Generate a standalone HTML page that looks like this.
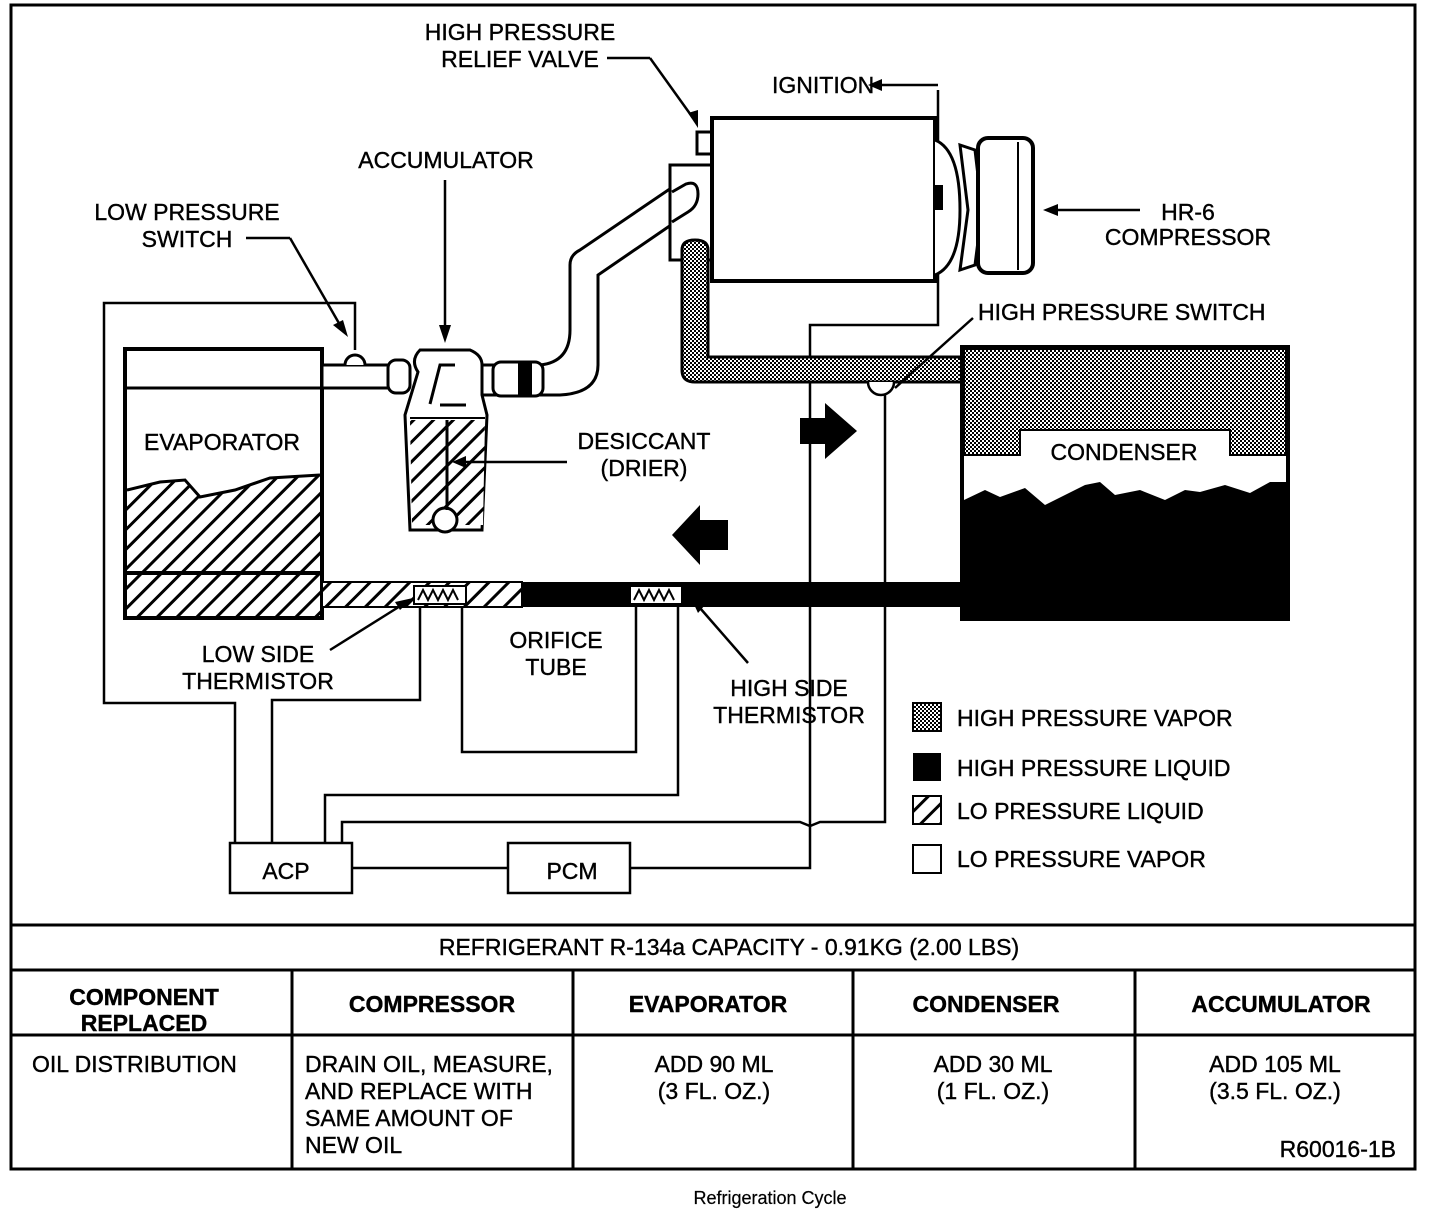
<!DOCTYPE html>
<html><head><style>
body{margin:0;background:#fff}
svg{display:block}
text{font-family:"Liberation Sans",Arial,sans-serif;font-size:23px;fill:#000;stroke:#000;stroke-width:0.4}
.b{font-weight:bold}
</style></head><body>
<svg width="1440" height="1214" viewBox="0 0 1440 1214" xmlns="http://www.w3.org/2000/svg">
<defs>
<pattern id="st" width="4" height="4" patternUnits="userSpaceOnUse"><rect width="4" height="4" fill="#fff"/><rect width="2" height="2" fill="#000"/><rect x="2" y="2" width="2" height="2" fill="#000"/></pattern>
<pattern id="ht" width="14" height="14" patternUnits="userSpaceOnUse" patternTransform="rotate(45)"><rect width="14" height="14" fill="#fff"/><rect width="3" height="14" fill="#000"/></pattern>
</defs>
<g fill="none" stroke="#000" stroke-width="3">
<rect x="11" y="5" width="1404" height="1164"/>
<line x1="11" y1="925" x2="1415" y2="925"/>
<line x1="11" y1="970" x2="1415" y2="970"/>
<line x1="11" y1="1035" x2="1415" y2="1035"/>
<line x1="292" y1="970" x2="292" y2="1169"/>
<line x1="573" y1="970" x2="573" y2="1169"/>
<line x1="853" y1="970" x2="853" y2="1169"/>
<line x1="1135" y1="970" x2="1135" y2="1169"/>
</g>
<!-- wires -->
<g fill="none" stroke="#000" stroke-width="2.5">
<polyline points="355,350 355,303 104,303 104,703 235,703 235,843"/>
<polyline points="272,843 272,700 420,700 420,600"/>
<polyline points="462,600 462,752 636,752 636,600"/>
<polyline points="325,843 325,795 678,795 678,600"/>
<polyline points="342,843 342,822 800,822 810,826 820,822 885,822 885,390"/>
<polyline points="352,868 508,868"/>
<polyline points="630,868 810,868 810,325 938,325 938,90"/>
<polyline points="938,85 880,85"/>
</g>
<polygon points="868,85 882,79 882,91" fill="#000"/>
<!-- evaporator -->
<rect x="125" y="349" width="197" height="269" fill="#fff" stroke="#000" stroke-width="4"/>
<line x1="125" y1="388" x2="322" y2="388" stroke="#000" stroke-width="3"/>
<path d="M127,490 L160,482 L185,480 L200,497 L235,490 L270,478 L320,475 L320,573 L127,573Z" fill="url(#ht)"/>
<rect x="127" y="575" width="193" height="41" fill="url(#ht)"/>
<line x1="125" y1="573" x2="322" y2="573" stroke="#000" stroke-width="4"/>
<path d="M127,490 L160,482 L185,480 L200,497 L235,490 L270,478 L320,475" fill="none" stroke="#000" stroke-width="3"/>
<!-- liquid line -->
<rect x="322" y="582" width="200" height="25" fill="url(#ht)" stroke="#000" stroke-width="2"/>
<rect x="522" y="582" width="442" height="25" fill="#000"/>
<rect x="414" y="586" width="52" height="18" fill="#fff" stroke="#000" stroke-width="2"/>
<path d="M418,600 l5,-10 5,10 5,-10 5,10 5,-10 5,10 5,-10 5,10" fill="none" stroke="#000" stroke-width="2"/>
<rect x="630" y="586" width="52" height="18" fill="#fff" stroke="#000" stroke-width="2"/>
<path d="M634,600 l5,-10 5,10 5,-10 5,10 5,-10 5,10 5,-10 5,10" fill="none" stroke="#000" stroke-width="2"/>
<!-- suction pipe -->
<g fill="#fff" stroke="#000" stroke-width="3">
<rect x="322" y="365" width="70" height="23"/>
<path d="M345,365 a10,10 0 0 1 20,0" />
<rect x="388" y="360" width="22" height="33" rx="8"/>
<path d="M480,365 L540,365 Q570,362 570,330 L570,265 Q570,255 580,250 L680,182 Q695,175 698,192 Q700,205 690,212 L598,275 L598,365 Q598,393 560,395 L480,395Z"/>
<rect x="493" y="362" width="50" height="34" rx="8"/>
<path d="M418,372 Q410,360 420,350 L470,350 Q482,355 482,365 L482,395 L487,415 L482,530 L410,530 L405,415Z"/>
</g>
<rect x="518" y="362" width="14" height="34" fill="#000"/>
<path d="M430,404 L440,365 L455,365 M440,405 L466,405" fill="none" stroke="#000" stroke-width="3"/>
<path d="M410,418 L485,418" stroke="#000" stroke-width="2"/>
<path d="M410,420 L485,420 L483,525 L412,525Z" fill="url(#ht)"/>
<circle cx="445" cy="520" r="12" fill="#fff" stroke="#000" stroke-width="3"/>
<line x1="447" y1="420" x2="447" y2="510" stroke="#000" stroke-width="3"/>
<!-- compressor -->
<rect x="670" y="165" width="42" height="95" fill="#fff" stroke="#000" stroke-width="3"/>
<path d="M672,192 L686,184 Q698,180 698,194 Q698,206 688,212 L672,222" fill="#fff" stroke="#000" stroke-width="3"/>
<rect x="697" y="132" width="16" height="22" fill="#fff" stroke="#000" stroke-width="3"/>
<rect x="712" y="118" width="223" height="163" fill="#fff" stroke="#000" stroke-width="4"/>
<path d="M935,140 Q960,150 960,210 Q960,265 935,275" fill="#fff" stroke="#000" stroke-width="3"/>
<rect x="933" y="185" width="10" height="25" fill="#000"/>
<path d="M960,145 L975,150 L982,210 L975,265 L960,270 L968,210Z" fill="#fff" stroke="#000" stroke-width="3"/>
<rect x="978" y="138" width="55" height="135" rx="10" fill="#fff" stroke="#000" stroke-width="4"/>
<line x1="1018" y1="142" x2="1018" y2="270" stroke="#000" stroke-width="2"/>
<!-- high pressure vapor line -->
<path d="M682,250 Q682,240 695,240 Q708,240 708,250 L708,357 L965,357 L965,382 L695,382 Q682,382 682,370Z" fill="url(#st)" stroke="#000" stroke-width="3"/>
<path d="M868,382 a13,13 0 0 0 26,0" fill="#fff" stroke="#000" stroke-width="2.5"/>
<!-- condenser -->
<rect x="962" y="347" width="326" height="272" fill="#fff" stroke="#000" stroke-width="4"/>
<path d="M964,349 L1286,349 L1286,455 L1230,455 L1230,430 L1020,430 L1020,455 L964,455Z" fill="url(#st)" stroke="#000" stroke-width="2"/>
<path d="M964,500 L985,490 L1000,497 L1025,488 L1045,505 L1065,495 L1085,485 L1100,482 L1115,495 L1140,490 L1165,500 L1185,490 L1200,492 L1225,485 L1250,493 L1270,482 L1286,482 L1286,617 L964,617Z" fill="#000"/>
<!-- block arrows -->
<polygon points="800,418 825,418 825,403 857,431 825,459 825,444 800,444" fill="#000"/>
<polygon points="728,520 700,520 700,505 672,535 700,565 700,550 728,550" fill="#000"/>
<!-- leaders -->
<g stroke="#000" stroke-width="2.5" fill="none">
<line x1="607" y1="58" x2="650" y2="58"/><line x1="650" y1="58" x2="693" y2="118"/>
<line x1="246" y1="238" x2="290" y2="238"/><line x1="290" y1="238" x2="340" y2="325"/>
<line x1="445" y1="180" x2="445" y2="330"/>
<line x1="1140" y1="210" x2="1055" y2="210"/>
<line x1="973" y1="318" x2="895" y2="388"/>
<line x1="567" y1="462" x2="460" y2="462"/>
<line x1="330" y1="650" x2="405" y2="603"/>
<line x1="748" y1="663" x2="700" y2="608"/>
</g>
<g fill="#000">
<polygon points="698,128 688,113 698,110"/>
<polygon points="348,337 333,325 343,320"/>
<polygon points="445,343 439,325 451,325"/>
<polygon points="1043,210 1058,204 1058,216"/>
<polygon points="452,462 466,456 466,468"/>
<polygon points="413,598 400,610 395,602"/>
<polygon points="692,600 705,605 698,613"/>
</g>
<!-- ACP / PCM -->
<rect x="230" y="843" width="122" height="50" fill="#fff" stroke="#000" stroke-width="2.5"/>
<rect x="508" y="843" width="122" height="50" fill="#fff" stroke="#000" stroke-width="2.5"/>
<text x="286" y="879" text-anchor="middle">ACP</text>
<text x="572" y="879" text-anchor="middle">PCM</text>
<!-- legend -->
<rect x="913" y="703" width="28" height="28" fill="url(#st)" stroke="#000" stroke-width="2"/>
<rect x="913" y="753" width="28" height="28" fill="#000"/>
<rect x="913" y="796" width="28" height="28" fill="url(#ht)" stroke="#000" stroke-width="2"/>
<rect x="913" y="845" width="28" height="28" fill="#fff" stroke="#000" stroke-width="2"/>
<text x="957" y="726">HIGH PRESSURE VAPOR</text>
<text x="957" y="776">HIGH PRESSURE LIQUID</text>
<text x="957" y="819">LO PRESSURE LIQUID</text>
<text x="957" y="867">LO PRESSURE VAPOR</text>
<!-- labels -->
<text x="520" y="40" text-anchor="middle">HIGH PRESSURE</text>
<text x="520" y="67" text-anchor="middle">RELIEF VALVE</text>
<text x="772" y="93">IGNITION</text>
<text x="446" y="168" text-anchor="middle">ACCUMULATOR</text>
<text x="187" y="220" text-anchor="middle">LOW PRESSURE</text>
<text x="187" y="247" text-anchor="middle">SWITCH</text>
<text x="1188" y="220" text-anchor="middle">HR-6</text>
<text x="1188" y="245" text-anchor="middle">COMPRESSOR</text>
<text x="978" y="320">HIGH PRESSURE SWITCH</text>
<text x="222" y="450" text-anchor="middle">EVAPORATOR</text>
<text x="644" y="449" text-anchor="middle">DESICCANT</text>
<text x="644" y="476" text-anchor="middle">(DRIER)</text>
<text x="1124" y="460" text-anchor="middle">CONDENSER</text>
<text x="258" y="662" text-anchor="middle">LOW SIDE</text>
<text x="258" y="689" text-anchor="middle">THERMISTOR</text>
<text x="556" y="648" text-anchor="middle">ORIFICE</text>
<text x="556" y="675" text-anchor="middle">TUBE</text>
<text x="789" y="696" text-anchor="middle">HIGH SIDE</text>
<text x="789" y="723" text-anchor="middle">THERMISTOR</text>
<!-- table -->
<text x="729" y="955" text-anchor="middle">REFRIGERANT R-134a CAPACITY - 0.91KG (2.00 LBS)</text>
<text class="b" x="144" y="1005" text-anchor="middle">COMPONENT</text>
<text class="b" x="144" y="1031" text-anchor="middle">REPLACED</text>
<text class="b" x="432" y="1012" text-anchor="middle">COMPRESSOR</text>
<text class="b" x="708" y="1012" text-anchor="middle">EVAPORATOR</text>
<text class="b" x="986" y="1012" text-anchor="middle">CONDENSER</text>
<text class="b" x="1281" y="1012" text-anchor="middle">ACCUMULATOR</text>
<text x="32" y="1072">OIL DISTRIBUTION</text>
<text x="305" y="1072">DRAIN OIL, MEASURE,</text>
<text x="305" y="1099">AND REPLACE WITH</text>
<text x="305" y="1126">SAME AMOUNT OF</text>
<text x="305" y="1153">NEW OIL</text>
<text x="714" y="1072" text-anchor="middle">ADD 90 ML</text>
<text x="714" y="1099" text-anchor="middle">(3 FL. OZ.)</text>
<text x="993" y="1072" text-anchor="middle">ADD 30 ML</text>
<text x="993" y="1099" text-anchor="middle">(1 FL. OZ.)</text>
<text x="1275" y="1072" text-anchor="middle">ADD 105 ML</text>
<text x="1275" y="1099" text-anchor="middle">(3.5 FL. OZ.)</text>
<text x="1396" y="1157" text-anchor="end">R60016-1B</text>
<text x="770" y="1204" text-anchor="middle" style="font-size:18px;stroke-width:0.2">Refrigeration Cycle</text>
</svg>
</body></html>
